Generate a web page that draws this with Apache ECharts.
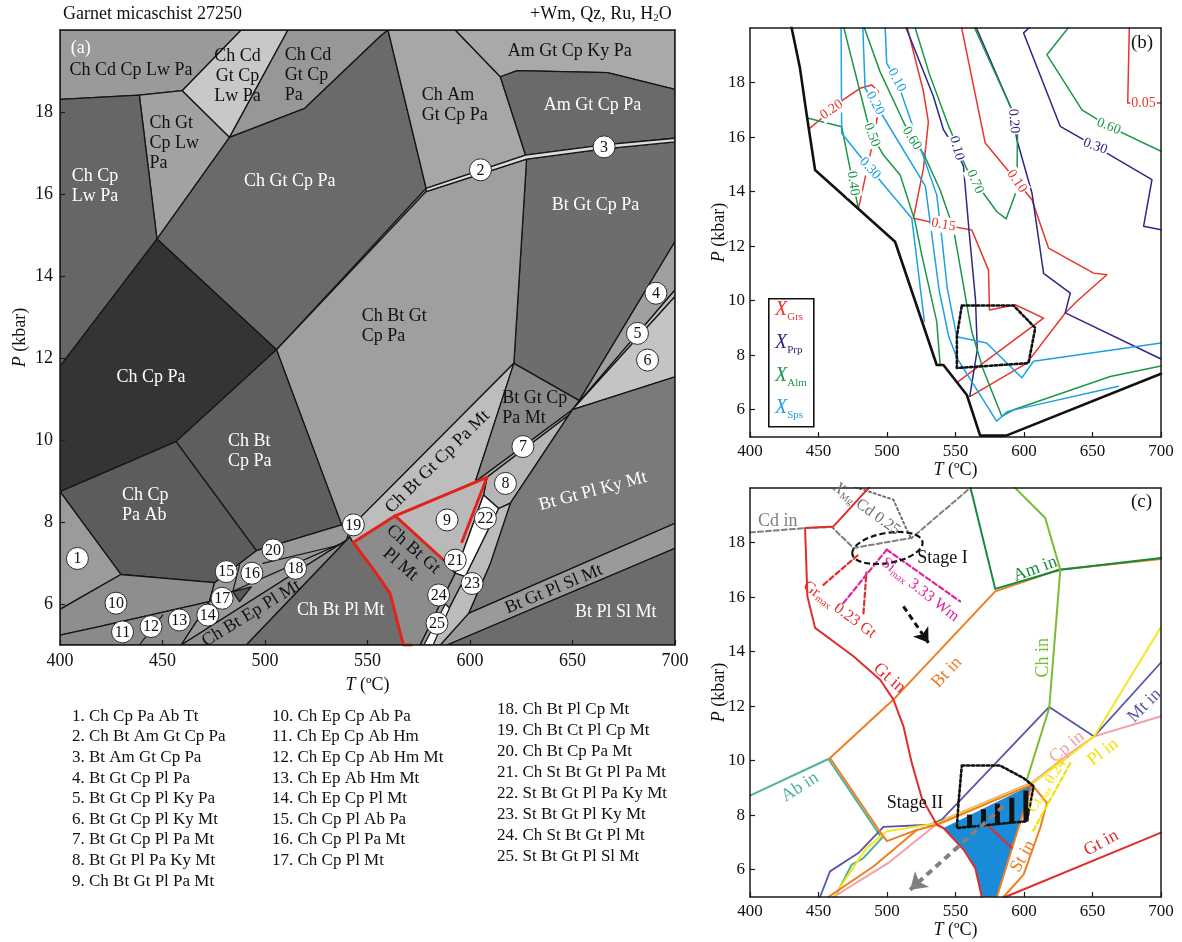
<!DOCTYPE html>
<html><head><meta charset="utf-8"><title>Garnet micaschist 27250</title>
<script src="https://cdn.jsdelivr.net/npm/echarts@6.0.0/dist/echarts.min.js"></script>
<style>html,body{margin:0;padding:0;background:#fff}#chart{width:1182px;height:942px}</style>
</head><body><div id="chart"></div>
<script>
// ================= DATA =================
const T_TICKS = [400,450,500,550,600,650,700];
const P_TICKS = [6,8,10,12,14,16,18];

// ---- Panel (a): assemblage fields [name, vertices [T(°C), P(kbar)]]
const fieldsA = [
 ['Ch Cd Cp Lw Pa',[[400,20],[488.4,20],[459.6,18.52],[438.7,18.41],[400,18.31]]],
 ['Ch Cd Gt Cp Lw Pa',[[488.4,20],[511.2,20],[482.7,17.38],[459.6,18.52]]],
 ['Ch Cd Gt Cp Pa',[[511.2,20],[560,20],[556.1,19.84],[519.4,18.09],[482.7,17.38]]],
 ['Ch Gt Cp Lw Pa',[[438.7,18.41],[459.6,18.52],[482.7,17.38],[447.3,14.90]]],
 ['Ch Cp Lw Pa',[[400,18.31],[438.7,18.41],[447.3,14.90],[400,11.80]]],
 ['Ch Gt Cp Pa',[[482.7,17.38],[519.4,18.09],[556.1,19.84],[560,20],[578.6,16.14],[505.6,12.20],[447.3,14.90]]],
 ['Ch Cp Pa',[[447.3,14.90],[505.6,12.20],[456.6,9.96],[400,8.74],[400,11.80]]],
 ['Ch Am Gt Cp Pa',[[560,20],[592.8,20],[614.8,18.86],[627.1,16.95],[578.6,16.14]]],
 ['Am Gt Cp Ky Pa',[[592.8,20],[700,20],[700,18.55],[667.1,18.96],[623.0,19.01],[614.8,18.86]]],
 ['Am Gt Cp Pa',[[614.8,18.86],[623.0,19.01],[667.1,18.96],[700,18.55],[700,17.36],[665.4,17.20],[627.1,16.95]]],
 ['Bt Gt Cp Pa',[[627.6,16.85],[665.4,17.10],[700,17.27],[700,14.84],[653.3,10.96],[621.4,11.87]]],
 ['Ch Bt Gt Cp Pa',[[578.6,16.06],[627.6,16.85],[621.4,11.87],[541.4,7.85],[537.4,7.93],[505.6,12.20]]],
 ['2-3',[[578.6,16.14],[627.1,16.95],[665.4,17.20],[700,17.36],[700,17.27],[665.4,17.10],[627.6,16.85],[578.6,16.06]]],
 ['Ch Bt Cp Pa',[[505.6,12.20],[537.4,7.93],[495.8,7.30],[456.6,9.96]]],
 ['Ch Cp Pa Ab',[[400,8.74],[456.6,9.96],[495.8,7.30],[475.4,6.52],[429.7,6.72]]],
 ['1',[[400,8.74],[429.7,6.72],[400,5.87]]],
 ['10',[[400,5.87],[429.7,6.72],[475.4,6.52],[472.9,6.06],[419.1,5.45],[400,5.24]]],
 ['11-14',[[400,5.24],[419.1,5.45],[472.9,6.06],[459.1,5],[400,5]]],
 ['15-20',[[472.9,6.06],[475.4,6.52],[495.8,7.30],[537.4,7.93],[541.4,7.85],[539.8,7.56],[459.1,5]]],
 ['17b',[[484.3,6.30],[493.3,6.42],[487.6,6.06]]],
 ['Ch Bt Ep Pl Mt',[[459.1,5],[539.8,7.56],[541.4,7.64],[490.9,5]]],
 ['Ch Bt Pl Mt',[[490.9,5],[541.4,7.64],[543.0,7.50],[553.7,6.79],[561.0,6.26],[567.5,5]]],
 ['Ch Bt Gt Cp Pa Mt',[[541.4,7.85],[621.4,11.87],[602.6,8.98],[563.5,8.15],[543.0,7.50],[541.4,7.64]]],
 ['Bt Gt Cp Pa Mt',[[621.4,11.87],[653.3,10.96],[650.0,10.74],[602.6,8.98]]],
 ['7',[[650.0,10.74],[602.6,8.98],[608.3,9.09],[648.6,10.62]]],
 ['8',[[648.6,10.62],[608.3,9.09],[606.6,8.66],[614.0,8.33],[619.7,8.46],[650.0,10.74]]],
 ['4',[[700,14.84],[700,13.66],[650.0,10.74],[653.3,10.96]]],
 ['5',[[700,13.66],[700,13.50],[650.0,10.74]]],
 ['6',[[700,13.50],[700,11.54],[650.0,10.74]]],
 ['Bt Gt Pl Ky Mt',[[650.0,10.74],[700,11.54],[700,7.97],[599.3,5.77],[609.9,6.99],[619.7,8.46]]],
 ['Bt Gt Pl Sl Mt',[[700,7.97],[700,7.36],[588.8,5],[585.5,5],[599.3,5.77]]],
 ['Bt Pl Sl Mt',[[700,7.36],[700,5],[588.8,5]]],
 ['9',[[563.5,8.15],[608.3,9.09],[606.6,8.66],[592.8,6.75],[586.3,7.11]]],
 ['Ch Bt Gt Pl Mt',[[543.0,7.50],[563.5,8.15],[586.3,7.11],[592.8,6.75],[575.7,5],[567.5,5],[561.0,6.26],[553.7,6.79]]],
 ['22',[[606.6,8.66],[614.0,8.33],[597.7,6.67],[592.8,6.75]]],
 ['23',[[597.7,6.67],[614.0,8.33],[619.7,8.46],[609.9,6.99],[599.3,5.77],[585.5,5],[580.6,5]]],
 ['24',[[592.8,6.75],[597.7,6.67],[580.6,5],[575.7,5]]],
 ['25',[[577.5,5],[582,5],[590,5.9],[588,6.0]]]
];
const extraLinesA = [
 [[438.7,5],[450.1,5.73]],
 [[499.0,6.99],[536.5,7.44]],
 [[472.9,6.06],[536.5,7.46]],
 [[487.6,6.95],[484.3,6.30]]
];
const redOutlineA = [
 [[571.6,5],[567.5,5],[561.0,6.26],[553.7,6.79],[543.0,7.50],[563.5,8.15],[608.3,9.09],[596.1,7.52]],
 [[563.5,8.15],[586.3,7.11]]
];
const labelsA = [
 ['(a)',405.2,19.55],
 ['Ch Cd Cp Lw Pa',434.6,19.02],
 ['Ch Cd\nGt Cp\nLw Pa',486.6,18.86],
 ['Ch Cd\nGt Cp\nPa',509.6,18.9],
 ['Ch Gt\nCp Lw\nPa',443.6,17.24],
 ['Ch Cp\nLw Pa',405.7,16.18],
 ['Ch Gt Cp Pa',512.1,16.30],
 ['Ch Am\nGt Cp Pa',576.5,18.17],
 ['Am Gt Cp Ky Pa',648.7,19.47],
 ['Am Gt Cp Pa',659.7,18.17],
 ['Bt Gt Cp Pa',661.2,15.73],
 ['Ch Bt Gt\nCp Pa',547.2,12.78],
 ['Ch Cp Pa',444.4,11.54],
 ['Ch Bt\nCp Pa',481.9,9.73],
 ['Ch Cp\nPa Ab',430.2,8.41],
 ['Bt Gt Cp\nPa Mt',615.7,10.77],
 ['Ch Bt Gt Cp Pa Mt',584.2,9.47],
 ['Bt Gt Pl Ky Mt',660,8.75],
 ['Ch Bt Gt\nPl Mt',569.2,7.15],
 ['Ch Bt Pl Mt',537,5.85],
 ['Ch Bt Ep Pl Mt',493.3,5.77],
 ['Bt Gt Pl Sl Mt',640.9,6.36],
 ['Bt Pl Sl Mt',671.1,5.81]
];
const circlesA = [
 [1,408.5,7.11],[2,605.1,16.59],[3,665.4,17.15],[4,690.7,13.58],[5,681.7,12.6],[6,686.6,11.95],
 [7,625.8,9.84],[8,617.3,8.94],[9,588.8,8.05],[10,427.3,6.02],[11,430.5,5.32],[12,444.4,5.45],
 [13,458.2,5.61],[14,472.1,5.73],[15,481.1,6.79],[16,493.6,6.75],[17,479.1,6.14],[18,514.9,6.87],
 [19,543.1,7.93],[20,503.9,7.32],[21,592.8,7.07],[22,607.5,8.09],[23,601.0,6.50],[24,584.7,6.22],[25,583.9,5.53]
];
const legendCol1 = ['1. Ch Cp Pa Ab Tt','2. Ch Bt Am Gt Cp Pa','3. Bt Am Gt Cp Pa','4. Bt Gt Cp Pl Pa','5. Bt Gt Cp Pl Ky Pa','6. Bt Gt Cp Pl Ky Mt','7. Bt Gt Cp Pl Pa Mt','8. Bt Gt Pl Pa Ky Mt','9. Ch Bt Gt Pl Pa Mt'];
const legendCol2 = ['10. Ch Ep Cp Ab Pa','11. Ch Ep Cp Ab Hm','12. Ch Ep Cp Ab Hm Mt','13. Ch Ep Ab Hm Mt','14. Ch Ep Cp Pl Mt','15. Ch Cp Pl Ab Pa','16. Ch Cp Pl Pa Mt','17. Ch Cp Pl Mt'];
const legendCol3 = ['18. Ch Bt Pl Cp Mt','19. Ch Bt Ct Pl Cp Mt','20. Ch Bt Cp Pa Mt','21. Ch St Bt Gt Pl Pa Mt','22. St Bt Gt Pl Pa Ky Mt','23. St Bt Gt Pl Ky Mt','24. Ch St Bt Gt Pl Mt','25. St Bt Gt Pl Sl Mt'];

// ---- Panel (b): garnet isopleths
const limitB = [[430,20.1],[436.5,18.52],[441.4,16.81],[447.5,14.79],[505.9,12.16],[536.3,7.64],[541.2,7.64],[558.3,6.54],[568,5.05],[587,5.05],[700,7.32]];
const isoGrs = [
 ['0.20',[[443.8,16.33],[459.6,17.0],[468.2,17.37],[480.3,17.79],[488.9,17.91],[493.7,17.67],[493.7,17.05],[491.3,16.2],[480.3,13.63],[479.1,13.39]]],
 ['0.15',[[514.4,20.1],[526.6,17.67],[530.2,16.56],[526.6,14.85],[519.3,13.02],[541.2,12.78],[561.9,12.59],[574.1,11.12],[574.8,9.66],[593.6,9.85],[614.3,9.36],[552.2,7.04]]],
 ['0.10',[[554.1,20.1],[571.7,15.78],[594.8,14.38],[605.8,13.70],[617.9,11.93],[650.8,11.01],[660.5,10.95],[638.6,9.98],[630.1,9.55],[602.1,7.71],[560.7,6.49]]],
 ['0.05',[[676.9,20.1],[675.7,17.25],[700,17.25]]]
];
const isoPrp = [
 ['0.10',[[513.2,20.1],[533.9,17.49],[541.2,16.27],[551,15.48],[555.8,14.93],[560,12.5],[564.6,10.04],[565.9,8.2],[560.4,6.49]]],
 ['0.20',[[564.4,20.1],[591.1,17.0],[594.8,15.9],[605.8,13.95],[614.3,11.0],[633.8,10.28],[630.1,9.55],[700,7.86]]],
 ['0.30',[[605.8,20.1],[599.7,19.82],[626.5,16.39],[652,15.66],[693.4,14.44],[687.3,12.73],[700,12.6]]]
];
const isoAlm = [
 ['0.40',[[442.6,16.69],[466.9,16.38],[473,14.85],[479.1,13.39]]],
 ['0.50',[[468,20.1],[485.2,16.69],[488.9,16.08],[497.4,15.34],[509.6,14.61],[520.5,12.9],[525.4,11.67],[536.3,9.23],[538.8,7.64]]],
 ['0.60',[[482.8,20.1],[494.9,18.4],[512,16.56],[518.1,15.95],[526.6,15.4],[538.8,14.06],[548.5,12.65],[558.3,9.84],[561.9,8.86],[570,7.5],[583.8,5.76],[592.4,6.0],[663,7.22],[700,7.6]]],
 ['0.70',[[520,20.1],[531,18.3],[545,16.4],[558,14.85],[564.3,14.36],[580.2,13.26],[587,13.0],[594.8,14.07],[595.3,16.46],[592,16.9],[563.1,20.1]]],
 ['0.60',[[633.8,20.1],[616.7,19.02],[642.3,17.0],[661.8,16.39],[700,15.48]]]
];
const isoSps = [
 ['0.30',[[466.5,20.1],[466.9,16.14],[487.6,14.85],[518.1,13.02],[527.3,9.24]]],
 ['0.20',[[482.3,20.1],[484,17.79],[491.3,17.24],[528,14.2],[533,12.3],[538,10.4],[545,8.7],[551,7.9],[580,5.58],[588,5.94],[669,6.86]]],
 ['0.10',[[498.6,20.1],[499.8,18.7],[507.1,18.09],[536.3,13.88],[540,12.3],[544,10.45],[550.9,8.68],[572.7,8.45],[598.4,7.17],[606.9,7.78],[700,8.45]]]
];
const labelsB = [
 ['Grs','0.20',459.6,17.0],['Sps','0.20',491.3,17.24],['Sps','0.10',507.1,18.09],['Sps','0.30',487.6,14.85],
 ['Alm','0.50',488.9,16.08],['Alm','0.40',475.3,14.3],['Alm','0.60',518.1,15.95],['Grs','0.15',541.2,12.78],
 ['Prp','0.10',550.9,15.59],['Alm','0.70',564.3,14.36],['Prp','0.20',592.5,16.58],['Grs','0.10',594.8,14.38],
 ['Prp','0.30',652,15.66],['Alm','0.60',661.8,16.39],['Grs','0.05',687.3,17.25]
];
const peakBoxB = [[554.6,9.82],[592.4,9.82],[608.2,9.0],[603.3,7.71],[551,7.53],[551,8.69],[554.6,9.82]];

// ---- Panel (c): phase-in lines
const cdIn = [[400,18.37],[440.2,18.53],[459.7,18.57],[475.5,17.80],[518.1,18.17],[560.7,20]];
const xmgCd = [[473,20.1],[504.7,19.57],[514.4,18.47],[518.1,18.1]];
const gtInUpper = [[487.7,20.06],[460.9,18.59],[440.2,18.53],[441.9,16.03],[447.5,14.87],[475.5,13.83],[495,12.97],[504.7,12.24],[512,11.26],[518.1,9.91],[525.4,8.63],[536.4,7.65],[541.2,7.53],[555.8,6.74],[564.4,6.06],[569.2,5]];
const gtInLower = [[586.3,5],[700,7.36]];
const btIn = [[458.4,10.1],[504.7,12.24],[579,16.21],[625.2,17.0],[700,17.4]];
const btIn2 = [[458.4,10.1],[496.2,7.3],[500,7.05],[521.8,7.46],[536.4,7.65],[605.8,9.12]];
const btIn3 = [[457.2,5],[490.1,6.12],[521.8,7.46]];
const stIn = [[580.2,5],[605.8,9.12],[616.7,8.45],[611.8,7.53],[599.7,5.82],[585,5]];
const abIn = [[400,8.72],[457.2,10.06],[496.2,7.16]];
const abIn2 = [[496.2,7.16],[482.8,6.43],[474.3,6.19],[462,5]];
const amIn = [[560.7,20.06],[579,16.3],[626.5,17.0],[700,17.43]];
const chIn = [[592.4,20.06],[615.5,18.9],[626.5,17.0],[618.4,11.93],[602.1,9.3],[605.8,9.12]];
const mtIn = [[540,7.84],[618.4,11.97],[651.2,10.89],[700,13.6]];
const mtIn2 = [[451.1,5],[458.4,5.94],[479.1,6.61],[497.4,7.57],[531.5,7.65],[540,7.84]];
const plIn = [[700,14.9],[651.2,10.89],[633.8,10.2],[605.8,9.15],[536.4,7.7],[499.8,7.41],[485,6.8],[461,5]];
const cpIn = [[700,11.63],[651.2,10.89],[633.8,10.28],[605.8,9.2],[538.8,7.78],[501,6.25],[460.9,5]];
const ctMax = [[633.8,9.91],[605.8,7.35]];
const grMax1 = [[453.6,16.45],[479.1,17.55]];
const grMax2 = [[482.8,15.4],[485,16.9]];
const siMax1 = [[468.2,15.78],[499.8,17.74]];
const siMax2 = [[499.8,17.74],[553.4,15.84]];
const stage2Box = [[554.6,9.82],[582.6,9.82],[599.7,9.36],[607,9.06],[602.1,7.78],[551,7.53],[552.2,8.45],[554.6,9.82]];
const stage2Field = [[541.2,7.53],[605.8,9.12],[580.2,5],[569.2,5],[564.4,6.06],[555.8,6.74]];
const redInner = [[572.9,7.65],[591.1,6.8]];
const hatchT = [560.2,570.4,580.6,591.1,601.4];
const hatchTop = [8.02,8.22,8.42,8.64,8.9];
const hatchBot = [7.59,7.65,7.69,7.71,7.77];
const stage1Center = [500.3,17.8];
const stage1Radii = [26,0.55];
const arrowI = [[512,15.66],[530.3,14.32]];
const arrowII = [[585,8.33],[516.9,5.27]];
const labelsC = [
 ['Cd in',420.2,18.78],['{i|X}{s|Mg} Cd 0.25',485.2,19.23],['Stage I',540.5,17.43],
 ['Gr{s|max} 0.23 Gt',465.3,15.54],['Si{s|max} 3.33 Wm',524.2,16.27],['Am in',608.2,17.03],
 ['Ch in',614.3,13.77],['Bt in',543.7,13.24],['Gt in',501.8,13.03],['Mt in',688,12.02],
 ['Cp in',631.3,10.5],['Pl in',657.6,10.31],['Ab in',436.5,9.03],['Stage II',520.5,8.45],
 ['St in',599.2,6.49],['Ct{s|max} 0.24',616.7,9.08],['Gt in',656.4,6.98]
];

// ================= STYLES =================
const FONT = '"Liberation Serif","Times New Roman",serif';
const FF = 'Liberation Serif';
const fillA = {
 'Ch Cd Cp Lw Pa':'#9a9a9a','Ch Cd Gt Cp Lw Pa':'#c8c8c8','Ch Cd Gt Cp Pa':'#979797','Ch Gt Cp Lw Pa':'#a2a2a2',
 'Ch Cp Lw Pa':'#666666','Ch Gt Cp Pa':'#6a6a6a','Ch Cp Pa':'#343434','Ch Am Gt Cp Pa':'#a7a7a7',
 'Am Gt Cp Ky Pa':'#a9a9a9','Am Gt Cp Pa':'#6a6a6a','Bt Gt Cp Pa':'#6d6d6d','Ch Bt Gt Cp Pa':'#9f9f9f',
 '2-3':'#dcdcdc','Ch Bt Cp Pa':'#5e5e5e','Ch Cp Pa Ab':'#5c5c5c','1':'#9b9b9b','10':'#8e8e8e','11-14':'#8a8a8a',
 '15-20':'#999999','17b':'#585858','Ch Bt Ep Pl Mt':'#8f8f8f','Ch Bt Pl Mt':'#6e6e6e','Ch Bt Gt Cp Pa Mt':'#bdbdbd',
 'Bt Gt Cp Pa Mt':'#8a8a8a','7':'#a4a4a4','8':'#b5b5b5','4':'#a0a0a0','5':'#bdbdbd','6':'#c4c4c4',
 'Bt Gt Pl Ky Mt':'#7a7a7a','Bt Gt Pl Sl Mt':'#9a9a9a','Bt Pl Sl Mt':'#6c6c6c','9':'#b9b9b9','Ch Bt Gt Pl Mt':'#8c8c8c',
 '22':'#ffffff','23':'#bcbcbc','24':'#9b9b9b','25':'#ffffff'
};
const WHITE_A = ['(a)','Ch Cp\nLw Pa','Ch Gt Cp Pa','Am Gt Cp Pa','Bt Gt Cp Pa','Ch Cp Pa','Ch Bt\nCp Pa','Ch Cp\nPa Ab','Bt Gt Pl Ky Mt','Ch Bt Pl Mt','Bt Pl Sl Mt'];
const LEFT_A = ['(a)','Ch Cd\nGt Cp\nPa','Ch Gt\nCp Lw\nPa','Ch Cp\nLw Pa','Ch Am\nGt Cp Pa','Ch Bt Gt\nCp Pa','Ch Bt\nCp Pa','Ch Cp\nPa Ab','Bt Gt Cp\nPa Mt'];
const ROT_A = {'Ch Bt Gt Cp Pa Mt':44.5,'Bt Gt Pl Ky Mt':15,'Ch Bt Gt\nPl Mt':-41,'Ch Bt Ep Pl Mt':31.5,'Bt Gt Pl Sl Mt':22.6};
const colB = {Grs:'#e8352d',Prp:'#2b2887',Alm:'#1b9747',Sps:'#1ea0e6'};
const rotB = [35,-62,-62,-48,-70,-82,-58,-10,-75,-68,-85,-55,-20,-22,0];
const styleC = [
 {c:'#7f7f7f',r:0},{c:'#6e6e6e',r:-36,s:16},{c:'#111',r:0},{c:'#e02d2d',r:-36,s:16},{c:'#e0259e',r:-38,s:16},
 {c:'#148a3c',r:20},{c:'#78bd32',r:90},{c:'#ef7d22',r:47},{c:'#e02d2d',r:-41},{c:'#5b56a6',r:45},
 {c:'#f2a0a6',r:40},{c:'#f2e200',r:37},{c:'#4db39a',r:33},{c:'#111',r:0},{c:'#ef7d22',r:60},{c:'#f2e200',r:58,s:15},{c:'#e02d2d',r:29}
];

// ================= BUILD =================
function xBottom(gi, fs, margin, gap){
 return {type:'value', gridIndex:gi, position:'bottom', min:400, max:700, interval:50, z:10,
  axisLine:{show:true,onZero:false,lineStyle:{color:'#1a1a1a',width:1.5}},
  axisTick:{show:true,inside:true,length:5,lineStyle:{color:'#1a1a1a',width:1.2}},
  axisLabel:{color:'#111',fontSize:fs,fontFamily:FF,margin:margin},
  splitLine:{show:false},
  name:'{i|T} (ºC)', nameLocation:'middle', nameGap:gap,
  nameTextStyle:{fontSize:18,fontFamily:FF,color:'#111',rich:{i:{fontStyle:'italic',fontSize:18,fontFamily:FF,color:'#111'}}}};
}
function xTop(gi){
 return {type:'value', gridIndex:gi, position:'top', min:400, max:700, z:10,
  axisLine:{show:true,onZero:false,lineStyle:{color:'#1a1a1a',width:1.5}},
  axisTick:{show:false}, axisLabel:{show:false}, splitLine:{show:false}};
}
function yLeft(gi, fs, margin, gap){
 return {type:'value', gridIndex:gi, position:'left', min:5, max:20, z:10,
  axisLine:{show:true,onZero:false,lineStyle:{color:'#1a1a1a',width:1.5}},
  axisTick:{show:true,inside:true,length:5,customValues:P_TICKS,lineStyle:{color:'#1a1a1a',width:1.2}},
  axisLabel:{color:'#111',fontSize:fs,fontFamily:FF,margin:margin,customValues:P_TICKS},
  splitLine:{show:false},
  name:'{i|P} (kbar)', nameLocation:'middle', nameGap:gap, nameRotate:90, nameMoveOverlap:false,
  nameTextStyle:{fontSize:18,fontFamily:FF,color:'#111',rich:{i:{fontStyle:'italic',fontSize:18,fontFamily:FF,color:'#111'}}}};
}
function yRight(gi){
 return {type:'value', gridIndex:gi, position:'right', min:5, max:20, z:10,
  axisLine:{show:true,onZero:false,lineStyle:{color:'#1a1a1a',width:1.5}},
  axisTick:{show:false}, axisLabel:{show:false}, splitLine:{show:false}};
}
function line(ai, pts, color, width, type, z){
 return {type:'line', xAxisIndex:ai, yAxisIndex:ai, data:pts, showSymbol:false, symbol:'none', silent:true,
  lineStyle:{color:color, width:width, type:type||'solid', cap:'round', join:'round'}, z:z||3, clip:true, animation:false};
}
function polys(ai, list, fillOf, stroke, lw, z){
 return {type:'custom', coordinateSystem:'cartesian2d', xAxisIndex:ai, yAxisIndex:ai, silent:true, clip:true, z:z||1,
  data:list.map(f=>f[1][0]),
  renderItem:function(params, api){
   const f=list[params.dataIndex];
   return {type:'polygon', shape:{points:f[1].map(p=>api.coord(p))},
    style:{fill:fillOf(f), stroke:stroke, lineWidth:lw, lineJoin:'round'}};
  }};
}
function texts(ai, items, styleOf, z){
 return {type:'custom', coordinateSystem:'cartesian2d', xAxisIndex:ai, yAxisIndex:ai, silent:true, clip:false, z:z||20,
  data:items.map(it=>[it[it.length-2], it[it.length-1]]),
  renderItem:function(params, api){
   const i=params.dataIndex, it=items[i], st=styleOf(it,i);
   const pt=api.coord([it[it.length-2], it[it.length-1]]);
   const fs=st.size||18;
   return {type:'text', x:pt[0], y:pt[1], rotation:(st.rot||0)*Math.PI/180,
    style:{text:st.text, fill:st.color, font:fs+'px '+FONT, align:st.align||'center', verticalAlign:'middle',
     lineHeight:st.lh||fs+2, backgroundColor:st.bg||'transparent', padding:st.bg?[0,1,0,1]:0,
     rich:{
      i:{fontStyle:'italic',fontSize:fs,fontFamily:FF,fill:st.color},
      s:{fontSize:Math.round(fs*0.6),fontFamily:FF,fill:st.color,verticalAlign:'bottom',lineHeight:fs+2}
     }}};
  }};
}

const series = [];
// ---------- (a)
series.push(polys(0, fieldsA, f=>fillA[f[0]], '#151515', 1.3, 1));
extraLinesA.forEach(l=>series.push(line(0,l,'#151515',1.2,'solid',2)));
redOutlineA.forEach(l=>series.push(line(0,l,'#e3231b',3,'solid',4)));
series.push(texts(0, labelsA, it=>({text:it[0], color:WHITE_A.includes(it[0])?'#ffffff':'#111111',
  align:LEFT_A.includes(it[0])?'left':'center', rot:ROT_A[it[0]]||0, size:18, lh:20}), 20));
series.push({type:'custom', coordinateSystem:'cartesian2d', xAxisIndex:0, yAxisIndex:0, silent:true, z:30,
 data:circlesA.map(c=>[c[1],c[2]]),
 renderItem:function(params, api){
  const c=circlesA[params.dataIndex]; const pt=api.coord([c[1],c[2]]);
  return {type:'group', x:pt[0], y:pt[1], children:[
   {type:'circle', shape:{cx:0,cy:0,r:11}, style:{fill:'#ffffff',stroke:'#2a2a2a',lineWidth:1}},
   {type:'text', style:{text:String(c[0]), x:0, y:0.5, align:'center', verticalAlign:'middle', font:'16px '+FONT, fill:'#111'}}
  ]};
 }});

// ---------- (b)
series.push(line(2, limitB, '#111', 2.6, 'solid', 6));
isoGrs.forEach(d=>series.push(line(2,d[1],colB.Grs,1.5)));
isoPrp.forEach(d=>series.push(line(2,d[1],colB.Prp,1.5)));
isoAlm.forEach(d=>series.push(line(2,d[1],colB.Alm,1.5)));
isoSps.forEach(d=>series.push(line(2,d[1],colB.Sps,1.5)));
series.push(line(2, peakBoxB, '#111', 2.6, [2.5,2.5], 7));
series.push(texts(2, labelsB, (it,i)=>({text:it[1], color:colB[it[0]], rot:rotB[i], size:14, bg:'#ffffff'}), 20));

// ---------- (c)
series.push(polys(4, [['Stage II',stage2Field]], f=>'#1a8bd6', 'none', 0, 1));
series.push(line(4, cdIn, '#7f7f7f', 2, [5,3]));
series.push(line(4, xmgCd, '#6e6e6e', 2, [2,3]));
series.push(line(4, abIn, '#4db39a', 2));
series.push(line(4, abIn2, '#4db39a', 2));
series.push(line(4, cpIn, '#f2a0a6', 2));
series.push(line(4, mtIn, '#5b56a6', 1.8));
series.push(line(4, mtIn2, '#5b56a6', 1.8));
series.push(line(4, plIn, '#f7e61c', 2));
series.push(line(4, btIn, '#ef7d22', 2));
series.push(line(4, btIn2, '#ef7d22', 2));
series.push(line(4, btIn3, '#ef7d22', 2));
series.push(line(4, stIn, '#ef7d22', 2));
series.push(line(4, amIn, '#148a3c', 2));
series.push(line(4, chIn, '#78bd32', 2));
series.push(line(4, gtInUpper, '#e02d2d', 2));
series.push(line(4, gtInLower, '#e02d2d', 2));
series.push(line(4, redInner, '#e02d2d', 2));
series.push(line(4, ctMax, '#f2e200', 2.2, [5,3]));
series.push(line(4, grMax1, '#e02d2d', 2.2, [5,3]));
series.push(line(4, grMax2, '#e02d2d', 2.2, [5,3]));
series.push(line(4, siMax1, '#e0259e', 2.2, [5,3]));
series.push(line(4, siMax2, '#e0259e', 2.2, [5,3]));
series.push({type:'custom', coordinateSystem:'cartesian2d', xAxisIndex:4, yAxisIndex:4, silent:true, z:8,
 data:hatchT.map((t,i)=>[t,hatchTop[i]]),
 renderItem:function(params, api){
  const i=params.dataIndex; const a=api.coord([hatchT[i],hatchTop[i]]), b=api.coord([hatchT[i],hatchBot[i]]);
  return {type:'line', shape:{x1:a[0],y1:a[1],x2:b[0],y2:b[1]}, style:{stroke:'#111',lineWidth:5}};
 }});
series.push(line(4, stage2Box, '#111', 2.6, [2.5,2.5], 9));
series.push({type:'custom', coordinateSystem:'cartesian2d', xAxisIndex:4, yAxisIndex:4, silent:true, z:9,
 data:[stage1Center],
 renderItem:function(params, api){
  const c=api.coord(stage1Center); const s=api.size(stage1Radii);
  return {type:'group', x:c[0], y:c[1], rotation:10*Math.PI/180, children:[
   {type:'ellipse', shape:{cx:0,cy:0,rx:s[0],ry:s[1]}, style:{fill:null,stroke:'#111',lineWidth:2.2,lineDash:[6,3]}}]};
 }});
series.push({type:'lines', coordinateSystem:'cartesian2d', xAxisIndex:4, yAxisIndex:4, silent:true, z:10,
 symbol:['none','arrow'], symbolSize:[0,14], lineStyle:{color:'#111',width:3,type:[6,4],opacity:1,curveness:0},
 data:[{coords:arrowI}]});
series.push({type:'lines', coordinateSystem:'cartesian2d', xAxisIndex:4, yAxisIndex:4, silent:true, z:10,
 symbol:['none','arrow'], symbolSize:[0,16], lineStyle:{color:'#808080',width:4,type:[7,5],opacity:1,curveness:0},
 data:[{coords:arrowII}]});
series.push(texts(4, labelsC, (it,i)=>({text:it[0], color:styleC[i].c, rot:styleC[i].r, size:styleC[i].s||18}), 20));

const sub = {fontSize:11,fontFamily:FF,verticalAlign:'bottom',lineHeight:20};
const option = {
 animation:false,
 backgroundColor:'#ffffff',
 textStyle:{fontFamily:FF},
 grid:[
  {left:60, top:30, width:615, height:615, show:true, backgroundColor:'#8c8c8c', borderWidth:0},
  {left:750, top:28, width:411, height:409},
  {left:750, top:488, width:411, height:409}
 ],
 xAxis:[xBottom(0,18,7,31), xTop(0), xBottom(1,17,6,19), xTop(1), xBottom(2,17,6,20), xTop(2)],
 yAxis:[yLeft(0,18,7,31), yRight(0), yLeft(1,17,5,22), yRight(1), yLeft(2,17,5,22), yRight(2)],
 series:series,
 graphic:[
  {type:'text', left:63, top:5, z:100, style:{text:'Garnet micaschist 27250', font:'18px '+FONT, fill:'#111'}},
  {type:'text', left:530, top:5, z:100, style:{text:'+Wm, Qz, Ru, H{s|2}O', font:'18px '+FONT, fill:'#111',
    rich:{s:Object.assign({fill:'#111'},sub)}}},
  {type:'text', left:1131, top:34, z:100, style:{text:'(b)', font:'19px '+FONT, fill:'#111'}},
  {type:'text', left:1131, top:493, z:100, style:{text:'(c)', font:'19px '+FONT, fill:'#111'}},
  {type:'rect', left:768, top:298, z:100, shape:{width:45,height:128}, style:{fill:'#ffffff',stroke:'#111',lineWidth:1.6}},
  {type:'text', left:775, top:300, z:101, style:{text:'{x|X}{s|Grs}', rich:{x:{fontStyle:'italic',fontSize:20,fontFamily:FF,fill:colB.Grs,lineHeight:26},s:Object.assign({fill:colB.Grs},sub,{lineHeight:26})}}},
  {type:'text', left:775, top:333, z:101, style:{text:'{x|X}{s|Prp}', rich:{x:{fontStyle:'italic',fontSize:20,fontFamily:FF,fill:colB.Prp,lineHeight:26},s:Object.assign({fill:colB.Prp},sub,{lineHeight:26})}}},
  {type:'text', left:775, top:366, z:101, style:{text:'{x|X}{s|Alm}', rich:{x:{fontStyle:'italic',fontSize:20,fontFamily:FF,fill:colB.Alm,lineHeight:26},s:Object.assign({fill:colB.Alm},sub,{lineHeight:26})}}},
  {type:'text', left:775, top:398, z:101, style:{text:'{x|X}{s|Sps}', rich:{x:{fontStyle:'italic',fontSize:20,fontFamily:FF,fill:colB.Sps,lineHeight:26},s:Object.assign({fill:colB.Sps},sub,{lineHeight:26})}}},
  {type:'text', left:72, top:706, z:100, style:{text:legendCol1.join('\n'), font:'17px '+FONT, fill:'#111', lineHeight:20.6}},
  {type:'text', left:272, top:706, z:100, style:{text:legendCol2.join('\n'), font:'17px '+FONT, fill:'#111', lineHeight:20.6}},
  {type:'text', left:497, top:699, z:100, style:{text:legendCol3.join('\n'), font:'17px '+FONT, fill:'#111', lineHeight:21}}
 ]
};
const chart = echarts.init(document.getElementById('chart'), null, {renderer:'canvas'});
chart.setOption(option);
</script></body></html>
